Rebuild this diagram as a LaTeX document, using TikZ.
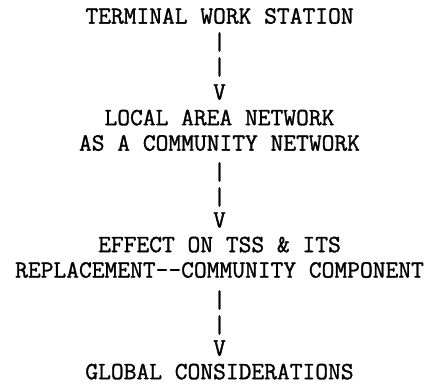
\documentclass[tikz,border=0pt]{standalone}
\usepackage{fontspec}
\newfontfamily\typewriter[FakeBold=1.2]{Latin Modern Mono}
\begin{document}
\begin{tikzpicture}[x=1pt,y=1pt,
  typed/.style={font=\typewriter\fontsize{24.8}{25.4}\selectfont, inner sep=0pt, outer sep=0pt, align=center, text=black},
  glyph/.style={typed}]
\useasboundingbox (0,0) rectangle (427,-384);
\node[typed] (tws) at (219.5,-16) {TERMINAL WORK STATION};
\node[typed] (lan) at (219.5,-130.3) {LOCAL AREA NETWORK\\AS A COMMUNITY NETWORK};
\node[typed] (tss) at (219.5,-257.3) {EFFECT ON TSS \& ITS\\REPLACEMENT-{}-COMMUNITY COMPONENT};
\node[typed] (glob) at (219.5,-371.6) {GLOBAL CONSIDERATIONS};
\path (tws.center) -- (lan.center)
  node[glyph,pos=0.2275] (a1) {|}
  node[glyph,pos=0.446] (a2) {|}
  node[glyph,pos=0.665] (a3) {V};
\path (lan.center) -- (tss.center)
  node[glyph,pos=0.328] (b1) {|}
  node[glyph,pos=0.525] (b2) {|}
  node[glyph,pos=0.706] (b3) {V};
\path (tss.center) -- (glob.center)
  node[glyph,pos=0.374] (c1) {|}
  node[glyph,pos=0.592] (c2) {|}
  node[glyph,pos=0.794] (c3) {V};
\end{tikzpicture}
\end{document}
